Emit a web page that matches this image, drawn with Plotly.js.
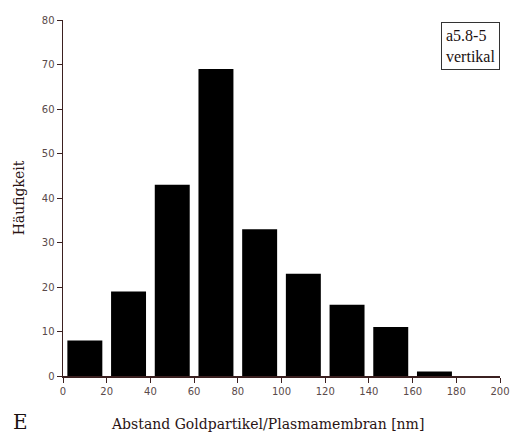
<!DOCTYPE html>
<html><head><meta charset="utf-8">
<script src="https://cdn.plot.ly/plotly-3.0.1.min.js"></script>
<style>html,body{margin:0;padding:0;background:#fff}</style>
</head><body><div id="c" style="width:511px;height:436px"></div>
<script>
const binCenters = [10, 30, 50, 70, 90, 110, 130, 150, 170];
const counts = [8, 19, 43, 69, 33, 23, 16, 11, 1];
const xTicks = [0, 20, 40, 60, 80, 100, 120, 140, 160, 180, 200];
const yTicks = [0, 10, 20, 30, 40, 50, 60, 70, 80];
const axisColor = '#3b2020';
const serif = 'DejaVu Serif, Liberation Serif, serif';
Plotly.newPlot('c', [{
  type: 'bar', x: binCenters, y: counts, width: 16,
  marker: {color: '#000000', line: {width: 0}}
}], {
  width: 511, height: 436,
  margin: {l: 63, r: 11, t: 20, b: 60},
  paper_bgcolor: '#fff', plot_bgcolor: '#fff',
  showlegend: false,
  xaxis: {range: [0, 200], tickvals: xTicks, ticks: 'outside', ticklen: 5, tickcolor: axisColor,
    showline: true, linecolor: axisColor, linewidth: 1.5, showgrid: false, zeroline: false,
    tickfont: {family: 'DejaVu Sans, sans-serif', size: 10, color: '#5a4a4a'}},
  yaxis: {range: [0, 80], tickvals: yTicks, ticks: 'outside', ticklen: 5, tickcolor: axisColor,
    showline: true, linecolor: axisColor, linewidth: 1.5, showgrid: false, zeroline: false,
    tickfont: {family: 'DejaVu Sans, sans-serif', size: 10, color: '#5a4a4a'},
    title: {text: 'Häufigkeit', standoff: 14, font: {family: serif, size: 14, color: '#2a1414'}}},
  annotations: [
    {xref: 'paper', yref: 'paper', x: 0.467, y: -0.135, xanchor: 'center', yanchor: 'middle',
     text: 'Abstand Goldpartikel/Plasmamembran [nm]', showarrow: false,
     font: {family: serif, size: 14, color: '#2a1414'}},
    {xref: 'paper', yref: 'paper', x: 1.0, y: 0.995, xanchor: 'right', yanchor: 'top',
     text: 'a5.8-5<br>vertikal', showarrow: false, align: 'left',
     font: {family: 'Liberation Serif, serif', size: 16, color: '#1a1010'},
     bordercolor: '#333', borderwidth: 1, borderpad: 4, bgcolor: '#fff'},
    {xref: 'paper', yref: 'paper', x: -0.12, y: -0.13, xanchor: 'left', yanchor: 'middle',
     text: 'E', showarrow: false, font: {family: serif, size: 20, color: '#1a1010'}}
  ]
}, {displayModeBar: false, staticPlot: true});
</script></body></html>
